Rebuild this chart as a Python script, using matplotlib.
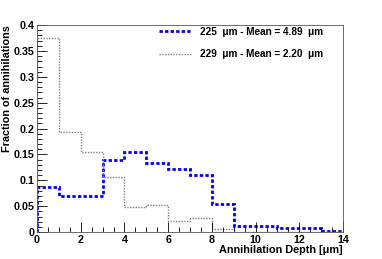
import numpy as np
import matplotlib.pyplot as plt
from matplotlib.ticker import MultipleLocator

plt.rcParams['font.family'] = ['Liberation Sans', 'DejaVu Sans']
plt.rcParams['font.weight'] = 'bold'

edges = np.arange(0, 15, 1)
frac_225 = [0.088, 0.070, 0.070, 0.140, 0.155, 0.133, 0.121, 0.111, 0.054, 0.012, 0.012, 0.008, 0.008, 0.003]
frac_229 = [0.376, 0.194, 0.154, 0.107, 0.049, 0.053, 0.021, 0.028, 0.006, 0.001, 0.0, 0.0, 0.0, 0.0]
lab_225 = "225  \u03bcm - Mean = 4.89  \u03bcm"
lab_229 = "229  \u03bcm - Mean = 2.20  \u03bcm"

fig = plt.figure(figsize=(3.82, 2.59), dpi=100)
ax = fig.add_axes([0.097, 0.104, 0.801, 0.799])

ax.stairs(frac_225, edges, color='blue', lw=2.0, ls=(0, (1.2, 0.8)), label=lab_225)
ax.stairs(frac_229, edges, color='#808080', lw=1.0, ls=(0, (1, 1)), label=lab_229)

ax.set_xlim(0, 14)
ax.set_ylim(0, 0.4)
ax.xaxis.set_major_locator(MultipleLocator(2))
ax.xaxis.set_minor_locator(MultipleLocator(0.5))
ax.yaxis.set_minor_locator(MultipleLocator(0.01))
ax.set_yticks(np.arange(0, 0.41, 0.05))
ax.set_yticklabels(['0', '0.05', '0.1', '0.15', '0.2', '0.25', '0.3', '0.35', '0.4'])
ax.tick_params(which='both', direction='in', top=False, right=False, labelsize=7.7, pad=2)
ax.tick_params(which='major', length=7, width=0.6)
ax.tick_params(which='minor', length=3.5, width=0.6)
for s in ax.spines.values():
    s.set_linewidth(0.6)
    s.set_color('#555555')

ax.set_xlabel("Annihilation Depth [\u03bcm]", fontsize=7.8, fontweight='bold', loc='right', labelpad=0)
ax.set_ylabel("Fraction of annihilations", fontsize=7.8, fontweight='bold', loc='top', labelpad=1)

ax.legend(loc='upper right', bbox_to_anchor=(0.965, 1.035), frameon=False, fontsize=7.2,
          handlelength=3.2, labelspacing=1.25, handletextpad=0.9)

fig.savefig('out.png', dpi=100)
